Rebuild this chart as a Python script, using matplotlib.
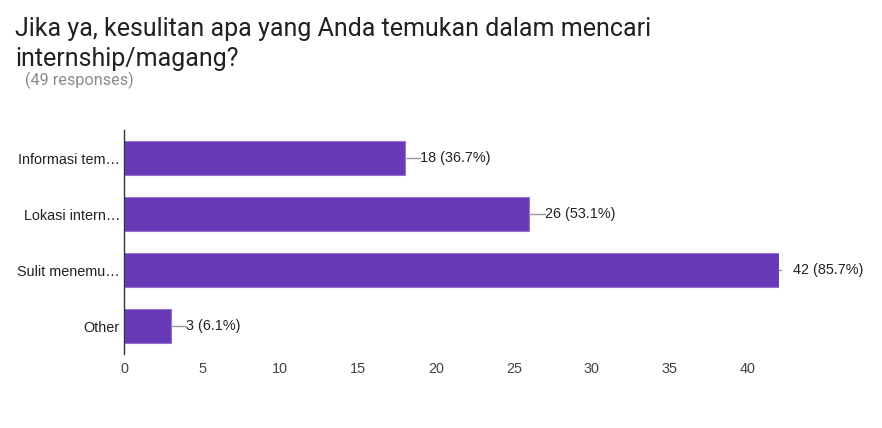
import matplotlib.pyplot as plt

# ============================
# DATOS
# ============================
categorias = ["Informasi tem…", "Lokasi intern…", "Sulit menemu…", "Other"]
valores = [18, 26, 42, 3]
porcentajes = ["36.7%", "53.1%", "85.7%", "6.1%"]
xticks = [0, 5, 10, 15, 20, 25, 30, 35, 40]

titulo = "Jika ya, kesulitan apa yang Anda temukan dalam mencari\ninternship/magang?"
subtitulo = "(49 responses)"

plt.rcParams["font.family"] = ["Liberation Sans", "DejaVu Sans"]

# ============================
# FIGURA
# ============================
fig = plt.figure(figsize=(8.82, 4.28), dpi=100)
ax = fig.add_axes([124 / 882, 1 - 354 / 428, 655 / 882, 224 / 428])

posiciones = list(range(len(categorias)))
ax.barh(posiciones, valores, height=0.6, color="#673ab7", edgecolor="#9575cd", linewidth=0.8)

ax.set_ylim(3.5, -0.5)
ax.set_xlim(0, 42)
ax.set_yticks(posiciones)
ax.set_yticklabels(categorias, fontsize=10.4, color="#222222")
ax.set_xticks(xticks)
ax.set_xticklabels([str(t) for t in xticks], fontsize=10.4, color="#444444")
ax.tick_params(axis="both", length=0, pad=3)
ax.tick_params(axis="x", pad=6)

for lado in ["top", "right", "bottom"]:
    ax.spines[lado].set_visible(False)
ax.spines["left"].set_color("#333333")
ax.spines["left"].set_linewidth(1)

# Etiquetas con línea conectora
for i, (v, p) in enumerate(zip(valores, porcentajes)):
    largo = 1.0 if v < 40 else 0.15
    inicio_texto = v + 1.0 if v < 40 else v + 0.9
    ax.plot([v, v + largo], [i, i], color="#999999", linewidth=1, clip_on=False)
    ax.text(inicio_texto, i, f"{v} ({p})", va="center", ha="left",
            fontsize=10.4, color="#222222", clip_on=False)

# Títulos
fig.text(15 / 882, 1 - 44 / 428, titulo, fontsize=18, color="#212121",
         family=["Roboto", "DejaVu Sans"], va="center", ha="left", linespacing=1.3)
fig.text(25 / 882, 1 - 80 / 428, subtitulo, fontsize=11.7, color="#8a8a8a",
         family=["Roboto", "DejaVu Sans"], va="center", ha="left")

plt.savefig("out.png", dpi=100)
